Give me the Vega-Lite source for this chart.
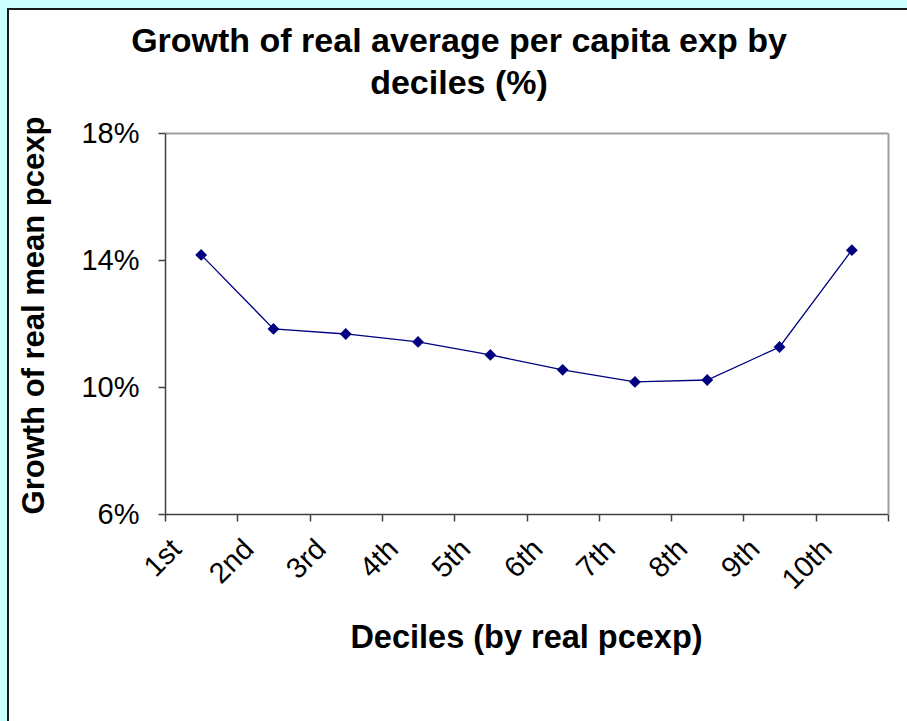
{
  "$schema": "https://vega.github.io/schema/vega-lite/v6.json",
  "width": 902,
  "height": 715,
  "autosize": "none",
  "padding": {"left": 8, "top": 9, "right": -3, "bottom": -3},
  "background": "#CCFFFF",
  "config": {
    "view": {"fill": "white", "stroke": "#1a1a1a", "strokeWidth": 2},
    "font": "Liberation Sans"
  },
  "title": {
    "text": ["Growth of real average per capita exp by", "deciles (%)"],
    "font": "Liberation Sans",
    "fontSize": 34,
    "fontWeight": "bold",
    "color": "black",
    "anchor": "middle",
    "frame": "group",
    "baseline": "top",
    "offset": -92,
    "lineHeight": 42
  },
  "data": {
    "values": [
      {"decile": "1st", "growth": 0.1416},
      {"decile": "2nd", "growth": 0.1183},
      {"decile": "3rd", "growth": 0.1167},
      {"decile": "4th", "growth": 0.1142},
      {"decile": "5th", "growth": 0.1101},
      {"decile": "6th", "growth": 0.1054},
      {"decile": "7th", "growth": 0.1016},
      {"decile": "8th", "growth": 0.1022},
      {"decile": "9th", "growth": 0.1126},
      {"decile": "10th", "growth": 0.1431}
    ]
  },
  "encoding": {
    "x": {
      "field": "decile",
      "type": "ordinal",
      "sort": null,
      "scale": {"type": "band", "range": [157, 880], "paddingInner": 0, "paddingOuter": 0},
      "axis": {
        "title": "Deciles (by real pcexp)",
        "offset": -210,
        "tickBand": "extent",
        "grid": false,
        "domainColor": "#404040",
        "domainWidth": 1.5,
        "tickColor": "#404040",
        "tickWidth": 1.5,
        "tickSize": 7,
        "labelAngle": -45,
        "labelAlign": "right",
        "labelBaseline": "middle",
        "labelFont": "Liberation Sans",
        "labelFontSize": 29,
        "labelColor": "black",
        "labelPadding": 23,
        "labelOffset": -25,
        "titleFont": "Liberation Sans",
        "titleFontSize": 32.5,
        "titleFontWeight": "bold",
        "titleColor": "black",
        "titleX": 518,
        "titleY": 123,
        "titleAlign": "center",
        "titleBaseline": "middle"
      }
    }
  },
  "layer": [
    {
      "mark": {"type": "line", "color": "#000080", "strokeWidth": 1.3},
      "encoding": {
        "y": {
          "field": "growth",
          "type": "quantitative",
          "scale": {"domain": [0.06, 0.18], "range": [505, 124], "nice": false, "zero": false},
          "axis": {
            "title": "Growth of real mean pcexp",
            "offset": -157,
            "values": [0.06, 0.10, 0.14, 0.18],
            "format": ".0%",
            "grid": true,
            "gridColor": "#A0A0A0",
            "gridWidth": 2,
            "gridOpacity": {"condition": {"test": "datum.value > 0.17", "value": 1}, "value": 0},
            "domainColor": "#404040",
            "domainWidth": 1.5,
            "tickColor": "#404040",
            "tickWidth": 1.5,
            "tickSize": 7,
            "labelFont": "Liberation Sans",
            "labelFontSize": 29,
            "labelColor": "black",
            "labelPadding": 19,
            "titleFont": "Liberation Sans",
            "titleFontSize": 31,
            "titleFontWeight": "bold",
            "titleColor": "black",
            "titleAngle": -90,
            "titleX": -131,
            "titleY": 306,
            "titleAlign": "center",
            "titleBaseline": "middle"
          }
        }
      }
    },
    {
      "mark": {"type": "point", "shape": "diamond", "filled": true, "color": "#000080", "opacity": 1, "size": 140},
      "encoding": {
        "y": {
          "field": "growth",
          "type": "quantitative",
          "axis": {
            "orient": "right",
            "offset": -22,
            "title": null,
            "labels": false,
            "ticks": false,
            "grid": false,
            "domainColor": "#A0A0A0",
            "domainWidth": 2
          }
        }
      }
    }
  ],
  "resolve": {"axis": {"y": "independent"}}
}
